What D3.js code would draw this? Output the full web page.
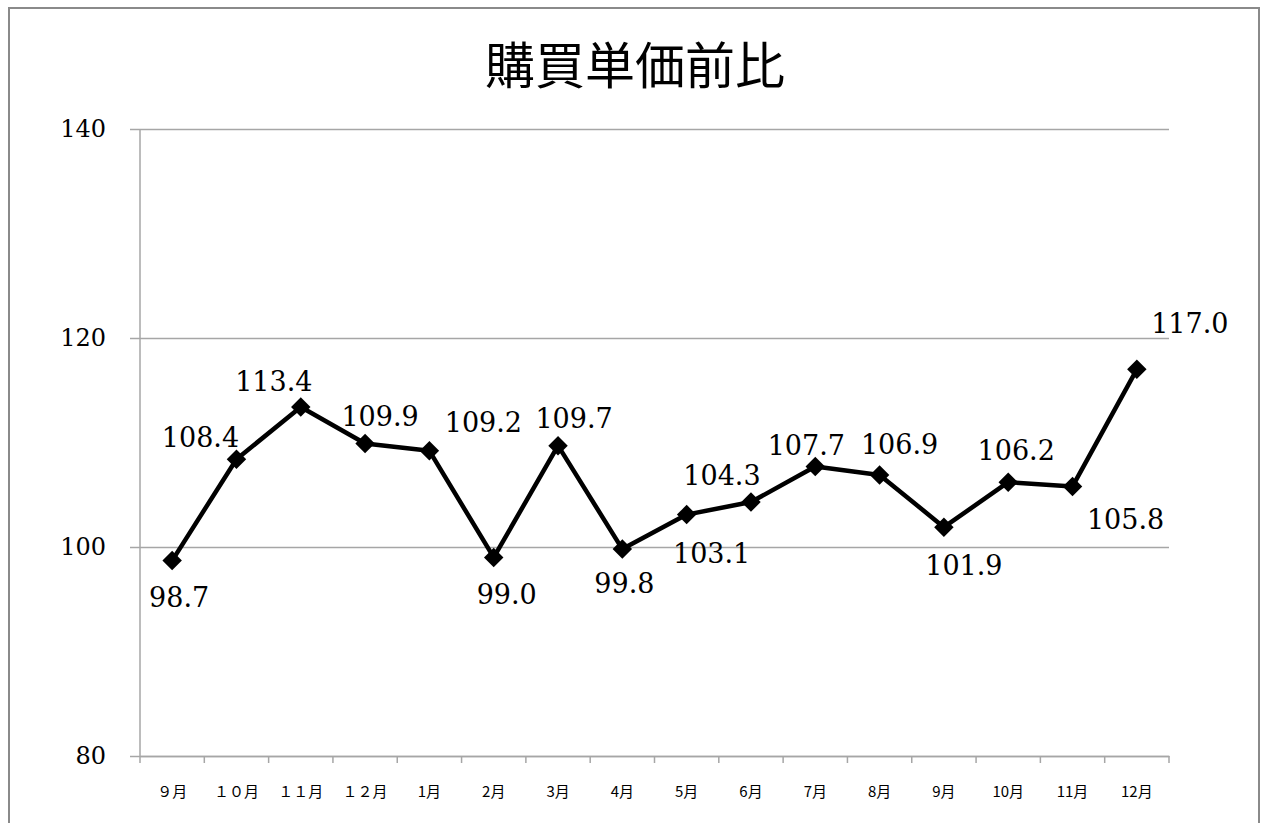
<!DOCTYPE html>
<html>
<head>
<meta charset="utf-8">
<script src="https://cdn.jsdelivr.net/npm/d3@7"></script>
<style>
  body { margin: 0; background: #fff; }
  svg { display: block; }
</style>
</head>
<body>
<script>
var months = ["９月", "１０月", "１１月", "１２月", "1月", "2月", "3月", "4月",
  "5月", "6月", "7月", "8月", "9月", "10月", "11月", "12月"];
var values = [98.7, 108.4, 113.4, 109.9, 109.2, 99.0, 109.7, 99.8,
  103.1, 104.3, 107.7, 106.9, 101.9, 106.2, 105.8, 117.0];
var yTicks = [80, 100, 120, 140];

// label nudges (dx, dy from the marker), as placed in the original
var labelOffsets = [[7, 46], [-36, -12], [-27, -16], [15, -18], [54, -19], [13, 47],
  [16, -18], [2, 44], [25, 48], [-29, -17], [-9, -12], [20, -21], [20, 48],
  [8, -22], [53, 43], [53, -36]];

var W = 1262, H = 823;
var margin = { top: 129, right: 93, bottom: 67, left: 140 },
  width = W - margin.left - margin.right,
  height = H - margin.top - margin.bottom;

var svg = d3.select("body").append("svg")
  .attr("width", W)
  .attr("height", H);

svg.append("rect")
  .attr("x", 0).attr("y", 0).attr("width", W).attr("height", H)
  .attr("fill", "#fff");

// outer chart border
svg.append("rect")
  .attr("x", 9).attr("y", 8)
  .attr("width", 1250).attr("height", 840)
  .attr("fill", "none")
  .attr("stroke", "#8a8a8a")
  .attr("stroke-width", 2);

svg.append("text")
  .attr("x", 635)
  .attr("y", 84)
  .attr("text-anchor", "middle")
  .style("font-family", "'Noto Sans CJK JP', sans-serif")
  .style("font-size", "50px")
  .style("fill", "#000")
  .text("購買単価前比");

var chart = svg.append("g")
  .attr("transform", "translate(" + margin.left + "," + margin.top + ")");

var x = d3.scaleBand().domain(months).range([0, width]);
var y = d3.scaleLinear().domain([80, 140]).range([height, 0]);

// horizontal gridlines + y axis
var yAxis = chart.append("g")
  .call(d3.axisLeft(y).tickValues(yTicks).tickSize(-width).tickPadding(34)
    .tickFormat(d3.format("d")));
yAxis.select(".domain").remove();
yAxis.selectAll(".tick line")
  .attr("x1", -10)
  .attr("stroke", "#a6a6a6")
  .attr("stroke-width", 1.5);
yAxis.selectAll(".tick text")
  .style("font-family", "'DejaVu Serif', serif")
  .style("font-size", "24px")
  .style("fill", "#000");

chart.append("line")
  .attr("x1", 0).attr("x2", 0)
  .attr("y1", 0).attr("y2", height)
  .attr("stroke", "#a6a6a6")
  .attr("stroke-width", 1.5);

// x axis
var xAxis = chart.append("g")
  .attr("transform", "translate(0," + height + ")")
  .call(d3.axisBottom(x).tickSize(0).tickPadding(30));
xAxis.select(".domain")
  .attr("stroke", "#a6a6a6")
  .attr("stroke-width", 1.5);
xAxis.selectAll(".tick text")
  .style("font-family", "'Noto Sans CJK JP', sans-serif")
  .style("font-size", "15px")
  .style("fill", "#000");

// category boundary ticks
var bounds = months.map(function (d) { return x(d); }).concat([width]);
chart.selectAll(".xtick")
  .data(bounds)
  .enter().append("line")
  .attr("class", "xtick")
  .attr("x1", function (d) { return d; })
  .attr("x2", function (d) { return d; })
  .attr("y1", height)
  .attr("y2", height + 7)
  .attr("stroke", "#a6a6a6")
  .attr("stroke-width", 1.5);

var cx = function (d, i) { return x(months[i]) + x.bandwidth() / 2; };

var line = d3.line()
  .x(function (d, i) { return cx(d, i); })
  .y(function (d) { return y(d); });

chart.append("path")
  .datum(values)
  .attr("d", line)
  .attr("fill", "none")
  .attr("stroke", "#000")
  .attr("stroke-width", 4.5)
  .attr("stroke-linejoin", "round");

var diamond = d3.symbol().type(d3.symbolSquare).size(190);
chart.selectAll(".marker")
  .data(values)
  .enter().append("path")
  .attr("class", "marker")
  .attr("d", diamond)
  .attr("transform", function (d, i) {
    return "translate(" + cx(d, i) + "," + y(d) + ") rotate(45)";
  })
  .attr("fill", "#000");

chart.selectAll(".label")
  .data(values)
  .enter().append("text")
  .attr("class", "label")
  .attr("x", function (d, i) { return cx(d, i) + labelOffsets[i][0]; })
  .attr("y", function (d, i) { return y(d) + labelOffsets[i][1]; })
  .attr("text-anchor", "middle")
  .style("font-family", "'DejaVu Serif', serif")
  .style("font-size", "27px")
  .style("fill", "#000")
  .text(function (d) { return d.toFixed(1); });
</script>
</body>
</html>
